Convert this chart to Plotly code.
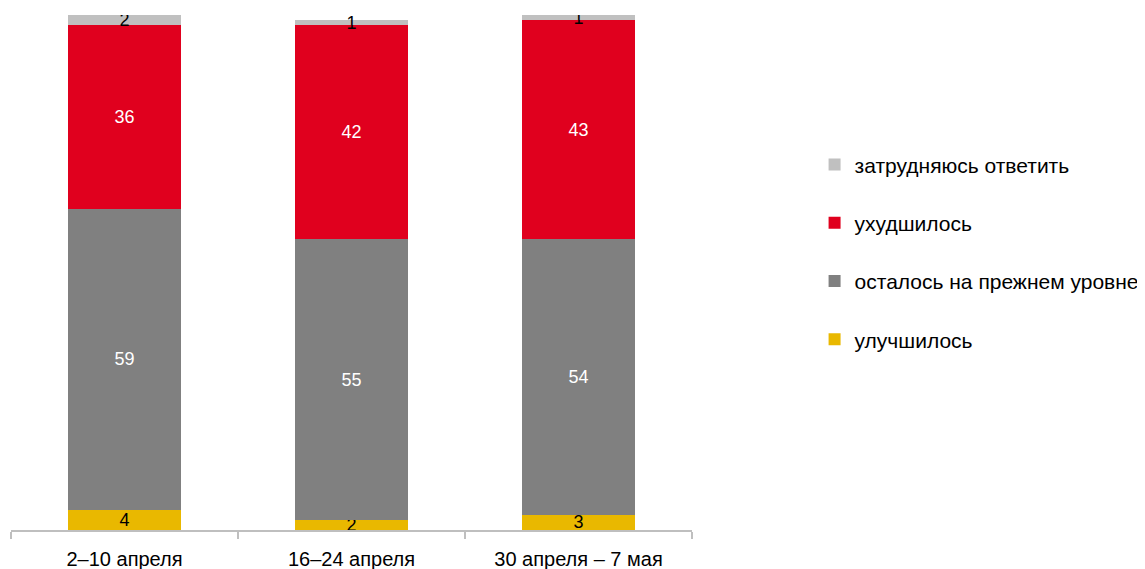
import plotly.graph_objects as go

categories = ["2–10 апреля", "16–24 апреля", "30 апреля – 7 мая"]
improved = [4, 2, 3]
same = [59, 55, 54]
worse = [36, 42, 43]
hard = [2, 1, 1]

series = [
    ("улучшилось", improved, "#E9B800", "#000000", 4),
    ("осталось на прежнем уровне", same, "#808080", "#FFFFFF", 3),
    ("ухудшилось", worse, "#E0001E", "#FFFFFF", 2),
    ("затрудняюсь ответить", hard, "#C0C0C0", "#000000", 1),
]

fig = go.Figure()
for name, vals, color, tcolor, rank in series:
    fig.add_trace(go.Bar(
        x=categories, y=vals, name=name,
        marker=dict(color=color, line=dict(width=0)),
        text=[str(v) for v in vals],
        textposition="inside", insidetextanchor="middle",
        constraintext="none", textangle=0,
        textfont=dict(color=tcolor, size=18, family="Liberation Sans, Arial"),
        legendgroup=name, legendrank=rank,
    ))

fig.update_layout(
    barmode="stack",
    bargap=0.5,
    width=1145, height=569,
    margin=dict(l=3, r=461, t=7, b=47),
    plot_bgcolor="white", paper_bgcolor="white",
    font=dict(family="Liberation Sans, Arial", size=20, color="#000000"),
    showlegend=True,
    legend=dict(
        traceorder="grouped", tracegroupgap=28,
        x=1.18, y=0.749, xanchor="left", yanchor="top",
        font=dict(size=21), itemwidth=30,
    ),
    xaxis=dict(
        showline=True, linecolor="#BFBFBF", linewidth=2,
        ticks="outside", tickson="boundaries", ticklen=7, tickcolor="#BFBFBF", tickwidth=2,
        showgrid=False, ticklabelstandoff=10,
        tickfont=dict(size=20),
    ),
    yaxis=dict(range=[0, 101], visible=False, showgrid=False),
)

fig.write_html("out.html")
